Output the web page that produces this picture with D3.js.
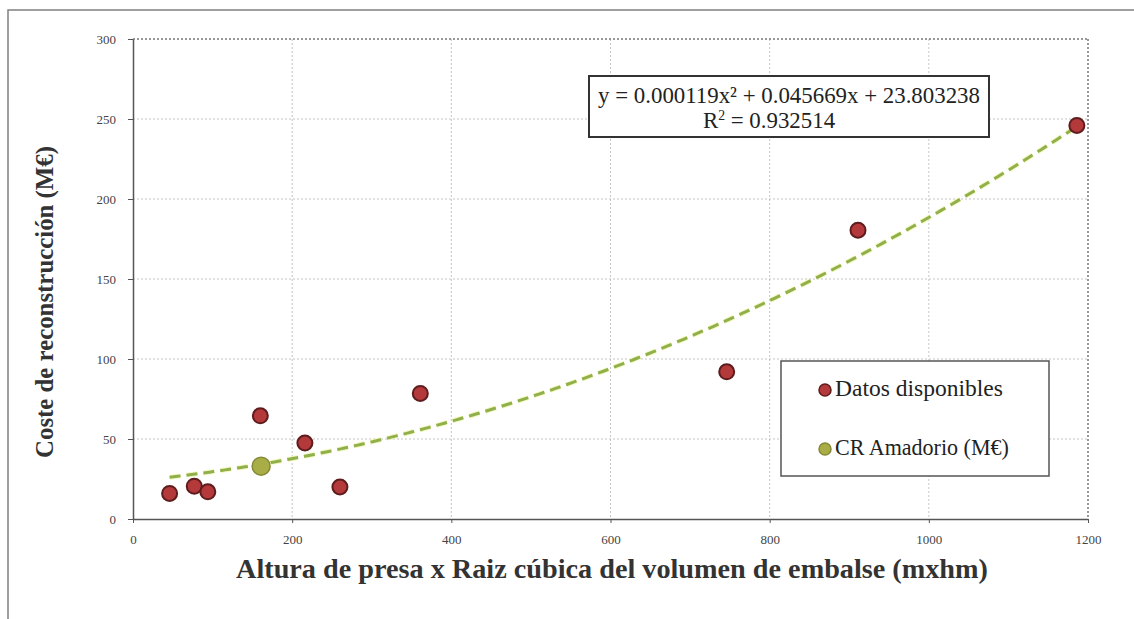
<!DOCTYPE html>
<html><head><meta charset="utf-8">
<script src="https://cdn.jsdelivr.net/npm/d3@7"></script>
<style>body{margin:0;background:#fff}svg{display:block}</style>
</head><body>
<svg id="c" width="1134" height="619"></svg>
<script>
const xData = [46, 77, 94, 160, 216, 260, 361, 746, 911, 1186];
const yData = [16, 20.5, 17, 64.5, 47.5, 20, 78.5, 92, 180.5, 246];
const amadorioX = [161];
const amadorioY = [33];
const trendCoef = [0.000119, 0.045669, 23.803238]; // from equation shown
const xTicks = [0, 200, 400, 600, 800, 1000, 1200];
const yTicks = [0, 50, 100, 150, 200, 250, 300];
const eqLine1 = "y = 0.000119x² + 0.045669x + 23.803238";
const legendLabels = ["Datos disponibles", "CR Amadorio (M€)"];

const svg = d3.select("#c");
const serif = "'Liberation Serif', 'DejaVu Serif', serif";
const L = 133, R = 1088, T = 39, B = 519;
const x = d3.scaleLinear().domain([0, 1200]).range([L, R]);
const y = d3.scaleLinear().domain([0, 300]).range([B, T]);

function fitText(sel, w) {
  const len = sel.node().getComputedTextLength();
  const fs = parseFloat(sel.attr("font-size"));
  sel.attr("font-size", fs * w / len);
}

// outer frame
svg.append("rect").attr("x", 8).attr("y", 10).attr("width", 1140).attr("height", 640)
  .attr("fill", "#fff").attr("stroke", "#808080").attr("stroke-width", 1.5);

// grid
svg.append("g").selectAll("line").data(xTicks.slice(1)).join("line")
  .attr("x1", d => x(d)).attr("x2", d => x(d)).attr("y1", T).attr("y2", B)
  .attr("stroke", d => d === 1200 ? "#777" : "#c4c4c4").attr("stroke-width", d => d === 1200 ? 1.5 : 1)
  .attr("stroke-dasharray", "2,2");
svg.append("g").selectAll("line").data(yTicks.slice(1)).join("line")
  .attr("x1", L).attr("x2", R).attr("y1", d => y(d)).attr("y2", d => y(d))
  .attr("stroke", d => d === 300 ? "#777" : "#c4c4c4").attr("stroke-width", d => d === 300 ? 1.5 : 1)
  .attr("stroke-dasharray", "2,2");

// axes
const xAxis = svg.append("g").attr("transform", `translate(0,${B})`)
  .call(d3.axisBottom(x).tickValues(xTicks).tickFormat(d3.format("d")).tickSize(4).tickSizeOuter(0).tickPadding(12));
const yAxis = svg.append("g").attr("transform", `translate(${L},0)`)
  .call(d3.axisLeft(y).tickValues(yTicks).tickFormat(d3.format("d")).tickSize(5).tickSizeOuter(0).tickPadding(12));
[xAxis, yAxis].forEach(g => {
  g.select(".domain").attr("stroke", "#555").attr("stroke-width", 1.5);
  g.selectAll(".tick line").attr("stroke", "#555");
  g.selectAll("text").attr("font-family", serif).attr("font-size", 13).attr("fill", "#444");
});

// trend line
const tx = d3.range(xData[0], d3.max(xData) + 1, 5);
const trend = tx.map(v => [v, trendCoef[0] * v * v + trendCoef[1] * v + trendCoef[2]]);
svg.append("path").datum(trend)
  .attr("d", d3.line().x(d => x(d[0])).y(d => y(d[1])))
  .attr("fill", "none").attr("stroke", "#f2f5b0").attr("stroke-width", 5).attr("stroke-dasharray", "11,6").attr("opacity", 0.8);
svg.append("path").datum(trend)
  .attr("d", d3.line().x(d => x(d[0])).y(d => y(d[1])))
  .attr("fill", "none").attr("stroke", "#8fb04a").attr("stroke-width", 3).attr("stroke-dasharray", "11,6");

// points
const pts = xData.map((v, i) => [v, yData[i]]);
svg.append("g").selectAll("circle").data(pts).join("circle")
  .attr("cx", d => x(d[0])).attr("cy", d => y(d[1])).attr("r", 7.5)
  .attr("fill", "#b3393b").attr("stroke", "#5e1c1c").attr("stroke-width", 2);
svg.append("g").selectAll("circle").data(amadorioX.map((v, i) => [v, amadorioY[i]])).join("circle")
  .attr("cx", d => x(d[0])).attr("cy", d => y(d[1])).attr("r", 9)
  .attr("fill", "#a9ad45").attr("stroke", "#858a36").attr("stroke-width", 1.5);

// equation box
const eq = svg.append("g");
eq.append("rect").attr("x", 589).attr("y", 76).attr("width", 400).attr("height", 61)
  .attr("fill", "#fff").attr("stroke", "#333").attr("stroke-width", 2);
const e1 = eq.append("text").attr("x", 789).attr("y", 103).attr("text-anchor", "middle")
  .attr("font-family", serif).attr("font-size", 18).attr("fill", "#222").text(eqLine1);
fitText(e1, 382);
const efs = parseFloat(e1.attr("font-size"));
const r2 = eq.append("text").attr("x", 769).attr("y", 128).attr("text-anchor", "middle")
  .attr("font-family", serif).attr("font-size", efs).attr("fill", "#222");
r2.append("tspan").text("R");
r2.append("tspan").attr("dy", -8).attr("font-size", efs * 0.6).text("2");
r2.append("tspan").attr("dy", 8).text(" = 0.932514");

// legend
const lg = svg.append("g");
lg.append("rect").attr("x", 781).attr("y", 361).attr("width", 268).attr("height", 115)
  .attr("fill", "#fff").attr("stroke", "#555").attr("stroke-width", 1.5);
const lc = [["#b3393b", "#5e1c1c"], ["#a9ad45", "#858a36"]];
const lw = [168, 174];
legendLabels.forEach((t, i) => {
  const yy = 390 + i * 59;
  lg.append("circle").attr("cx", 825).attr("cy", yy).attr("r", 6)
    .attr("fill", lc[i][0]).attr("stroke", lc[i][1]).attr("stroke-width", 1.5);
  const tt = lg.append("text").attr("x", 835).attr("y", yy + 6).attr("font-family", serif)
    .attr("font-size", 18).attr("fill", "#222").text(t);
  fitText(tt, lw[i]);
});

// axis titles
const xt = svg.append("text").attr("x", 612).attr("y", 578).attr("text-anchor", "middle")
  .attr("font-family", serif).attr("font-weight", "bold").attr("font-size", 20).attr("fill", "#333")
  .text("Altura de presa x Raiz cúbica del volumen de embalse (mxhm)");
fitText(xt, 752);
const yt = svg.append("text").attr("transform", "translate(53,302) rotate(-90)").attr("text-anchor", "middle")
  .attr("font-family", serif).attr("font-weight", "bold").attr("font-size", 20).attr("fill", "#333")
  .text("Coste de reconstrucción (M€)");
fitText(yt, 312);
</script>
</body></html>
